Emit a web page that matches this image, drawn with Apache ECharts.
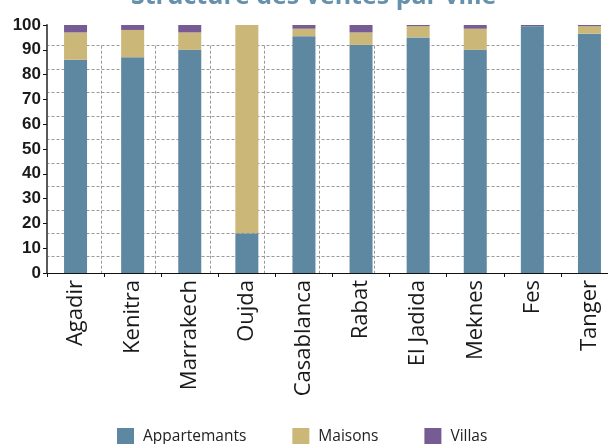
<!DOCTYPE html>
<html>
<head>
<meta charset="utf-8">
<script src="https://cdn.jsdelivr.net/npm/echarts@6/dist/echarts.min.js"></script>
<style>
html,body{margin:0;padding:0;background:#fff;}
#chart{width:608px;height:444px;}
</style>
</head>
<body>
<div id="chart"></div>
<script>
var categories = ['Agadir','Kenitra','Marrakech','Oujda','Casablanca','Rabat','El Jadida','Meknes','Fes','Tanger'];
var appartements = [86, 87, 90, 16, 95.5, 92, 95, 90, 99.5, 96.5];
var maisons      = [11, 11, 7, 84, 3, 5, 4.5, 8.5, 0, 3];
var villas       = [3, 2, 3, 0, 1.5, 3, 0.5, 1.5, 0.5, 0.5];
var seriesNames = ['Appartemants','Maisons','Villas'];
var yTicks = {min: 0, max: 100, interval: 10};

var colors = ['#5e87a1', '#cbb777', '#775b94'];
var gridColor = '#9a9a9a';

var chart = echarts.init(document.getElementById('chart'), null, {renderer:'canvas'});
var option = {
  animation: false,
  color: colors,
  title: {
    text: 'Structure des ventes par ville',
    left: 126, top: -21,
    textStyle: {fontFamily: 'Open Sans', fontWeight: 'bold', fontSize: 25, color: '#6790ab'}
  },
  legend: {
    data: seriesNames,
    top: 428, left: 117, padding: 0,
    itemWidth: 17, itemHeight: 17, itemGap: 46,
    icon: 'rect',
    textStyle: {fontFamily: 'Open Sans', fontSize: 15.5, color: '#222', padding: [0,0,0,4]}
  },
  grid: [
    {left: 47, top: 25, width: 571, height: 248, containLabel: false, outerBoundsMode: 'none'},
    {left: 46.5, top: 45.7, width: 530.5, height: 227.3, containLabel: false, outerBoundsMode: 'none'}
  ],
  xAxis: [
    {
      type: 'category', gridIndex: 0, data: categories,
      axisLine: {lineStyle: {color: '#111', width: 1}},
      axisTick: {show: true, length: 4, lineStyle: {color: '#111'}},
      axisLabel: {rotate: 90, interval: 0, margin: 7, fontFamily: 'Open Sans', fontSize: 22, color: '#1a1a1a'},
      splitLine: {show: false}
    },
    {
      type: 'value', gridIndex: 1, min: 0, max: 9.725, interval: 1,
      axisLine: {show: false}, axisTick: {show: false}, axisLabel: {show: false},
      splitLine: {show: true, showMinLine: false, showMaxLine: false, lineStyle: {color: gridColor, type: [3,2], width: 1}}
    }
  ],
  yAxis: [
    {
      type: 'value', gridIndex: 0, min: yTicks.min, max: yTicks.max, interval: yTicks.interval,
      axisLine: {show: true, lineStyle: {color: '#5a5a5a', width: 2}},
      axisTick: {show: true, length: 4, lineStyle: {color: '#111'}},
      axisLabel: {margin: 6, fontFamily: 'Liberation Sans', fontWeight: 'bold', fontSize: 17, color: '#1a1a1a'},
      splitLine: {show: false}
    },
    {
      type: 'value', gridIndex: 1, inverse: true, min: 0, max: 9.693, interval: 1,
      axisLine: {show: false}, axisTick: {show: false}, axisLabel: {show: false},
      splitLine: {show: true, showMinLine: true, showMaxLine: false, lineStyle: {color: gridColor, type: [3,2], width: 1}}
    }
  ],
  series: [
    {name: seriesNames[0], type: 'bar', stack: 'total', data: appartements, barWidth: 23, xAxisIndex: 0, yAxisIndex: 0, z: 3},
    {name: seriesNames[1], type: 'bar', stack: 'total', data: maisons, barWidth: 23, xAxisIndex: 0, yAxisIndex: 0, z: 3},
    {name: seriesNames[2], type: 'bar', stack: 'total', data: villas, barWidth: 23, xAxisIndex: 0, yAxisIndex: 0, z: 3}
  ]
};
chart.setOption(option);
</script>
</body>
</html>
